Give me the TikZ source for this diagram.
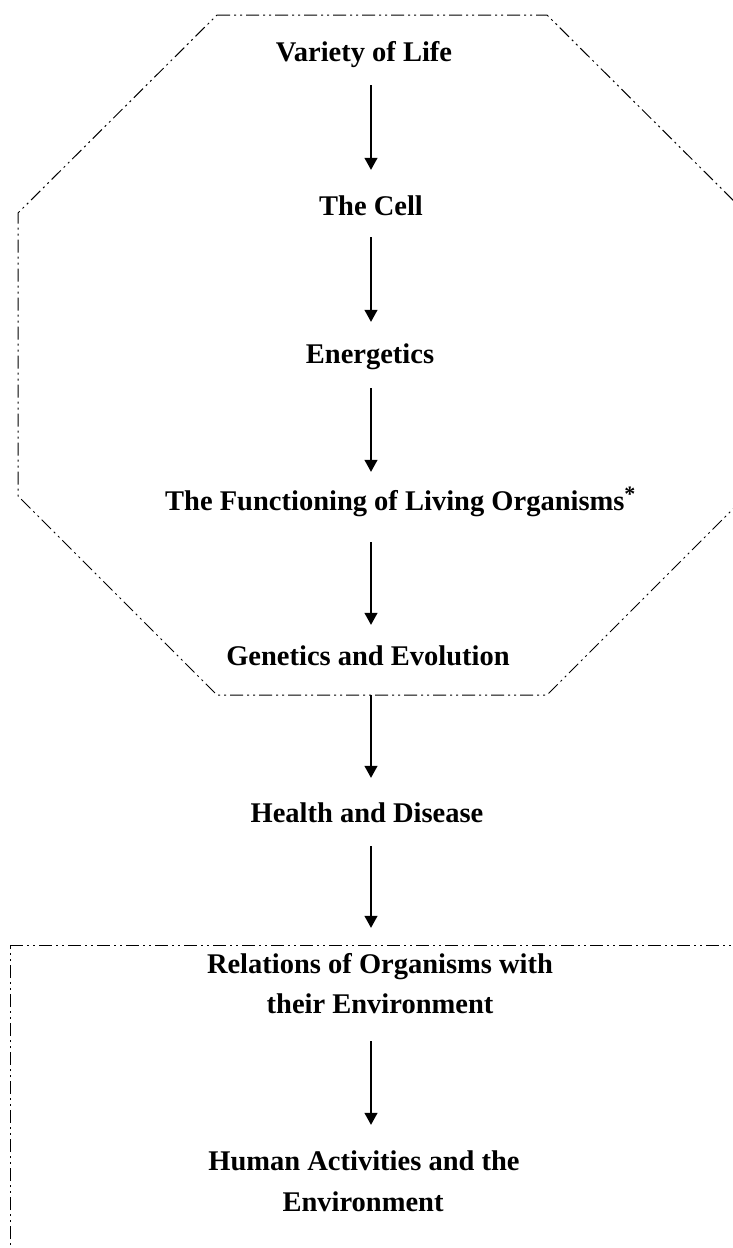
\documentclass[tikz,border=0pt]{standalone}
\usepackage{fontspec}
\setmainfont{Liberation Serif}
\usetikzlibrary{arrows.meta}
\begin{document}
\begin{tikzpicture}[x=1pt,y=-1pt,
  topic/.style={font=\fontsize{28.5}{40}\selectfont\bfseries,
    inner xsep=0pt, inner ysep=0pt, text height=20pt, text depth=0pt, anchor=base},
  flow/.style={line width=1.2pt, -{Triangle[width=13pt,length=12pt]}},
  bound/.style={line width=1pt,
    dash pattern=on 13pt off 4pt on 2pt off 4pt on 2pt off 4pt}]
\useasboundingbox (0,0) rectangle (733,1248);
\clip (0,0) rectangle (733,1248);

% group outlines
\draw[bound] (217,15) -- (547,15) -- (746,213) -- (746,496) -- (547,695)
  -- (217,695) -- (18,496) -- (18,213) -- cycle;
\draw[bound] (10,945) -- (760,945) -- (760,1270) -- (10,1270) -- cycle;

% topics
\node[topic] (var)  at (364,61)  {Variety of Life};
\node[topic] (cell) at (371,215) {The Cell};
\node[topic] (ener) at (370,363) {Energetics};
\node[topic, anchor=base west] (func) at (165,510)
  {The Functioning of Living Organisms\raisebox{9pt}{\fontsize{22}{22}\selectfont *}};
\node[topic] (gen)  at (368,665) {Genetics and Evolution};
\node[topic] (hlth) at (367,822) {Health and Disease};
\node[topic] (rel1) at (380,973) {Relations of Organisms with};
\node[topic] (rel2) at (380,1013) {their Environment};
\node[topic] (hum1) at (364,1170) {Human Activities and the};
\node[topic] (hum2) at (363,1211) {Environment};

% flow arrows along the common axis
\coordinate (axis) at (371,0);
\draw[flow, shorten <=24pt, shorten >=25pt] (var.south -| axis)  -- (cell.north -| axis);
\draw[flow, shorten <=22pt, shorten >=21pt] (cell.south -| axis) -- (ener.north -| axis);
\draw[flow, shorten <=25pt, shorten >=18pt] (ener.south -| axis) -- (func.north -| axis);
\draw[flow, shorten <=32pt, shorten >=20pt] (func.south -| axis) -- (gen.north -| axis);
\draw[flow, shorten <=30pt, shorten >=24pt] (gen.south -| axis)  -- (hlth.north -| axis);
\draw[flow, shorten <=24pt, shorten >=25pt] (hlth.south -| axis) -- (rel1.north -| axis);
\draw[flow, shorten <=28pt, shorten >=25pt] (rel2.south -| axis) -- (hum1.north -| axis);
\end{tikzpicture}
\end{document}
